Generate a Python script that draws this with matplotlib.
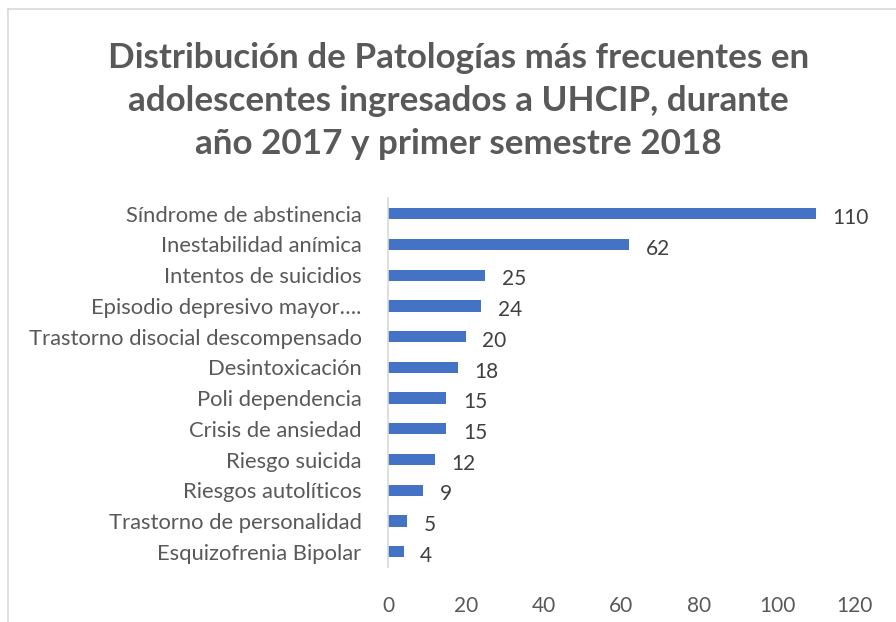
import matplotlib
matplotlib.use("Agg")
import matplotlib.pyplot as plt
from matplotlib.lines import Line2D

categories = ["Síndrome de abstinencia", "Inestabilidad anímica", "Intentos de suicidios",
              "Episodio depresivo mayor….", "Trastorno disocial descompensado", "Desintoxicación",
              "Poli dependencia", "Crisis de ansiedad", "Riesgo suicida", "Riesgos autolíticos",
              "Trastorno de personalidad", "Esquizofrenia Bipolar"]
values = [110, 62, 25, 24, 20, 18, 15, 15, 12, 9, 5, 4]
xticks = [0, 20, 40, 60, 80, 100, 120]
title = "Distribución de Patologías más frecuentes en\nadolescentes ingresados a UHCIP, durante\naño 2017 y primer semestre 2018"

plt.rcParams['font.family'] = ['Lato', 'DejaVu Sans']

fig = plt.figure(figsize=(8.96, 6.22), dpi=100)
ax = fig.add_axes([0.433, 0.0884, 0.521, 0.5926])

ypos = list(range(len(categories)))
ax.barh(ypos, values, height=0.37, color="#4472C4")
ax.set_ylim(len(categories) - 0.5, -0.5)
ax.set_xlim(0, 120)
ax.set_yticks(ypos)
ax.set_yticklabels(categories, fontsize=15.8, color="#595959")
ax.set_xticks(xticks)
ax.set_xticklabels([str(t) for t in xticks], fontsize=15, color="#595959")
ax.tick_params(axis='y', length=0, pad=19)
ax.tick_params(axis='x', length=0, pad=21)
for s in ["top", "right", "bottom"]:
    ax.spines[s].set_visible(False)
ax.spines["left"].set_color("#D9D9D9")
ax.spines["left"].set_linewidth(1.2)

for y, v in zip(ypos, values):
    ax.annotate(str(v), (v, y), xytext=(12, -3), textcoords="offset points",
                ha="left", va="center", fontsize=15, color="#404040")

fig.text(0.512, 0.838, title, ha="center", va="center", fontsize=25.2, fontweight="bold",
         color="#595959", linespacing=1.42)

# chart border (left and top visible)
fig.add_artist(Line2D([0.009, 0.009], [0.0, 0.985], transform=fig.transFigure, color="#D9D9D9", lw=1.2))
fig.add_artist(Line2D([0.009, 1.0], [0.985, 0.985], transform=fig.transFigure, color="#D9D9D9", lw=1.2))

fig.savefig("out.png", dpi=100, facecolor="white")
